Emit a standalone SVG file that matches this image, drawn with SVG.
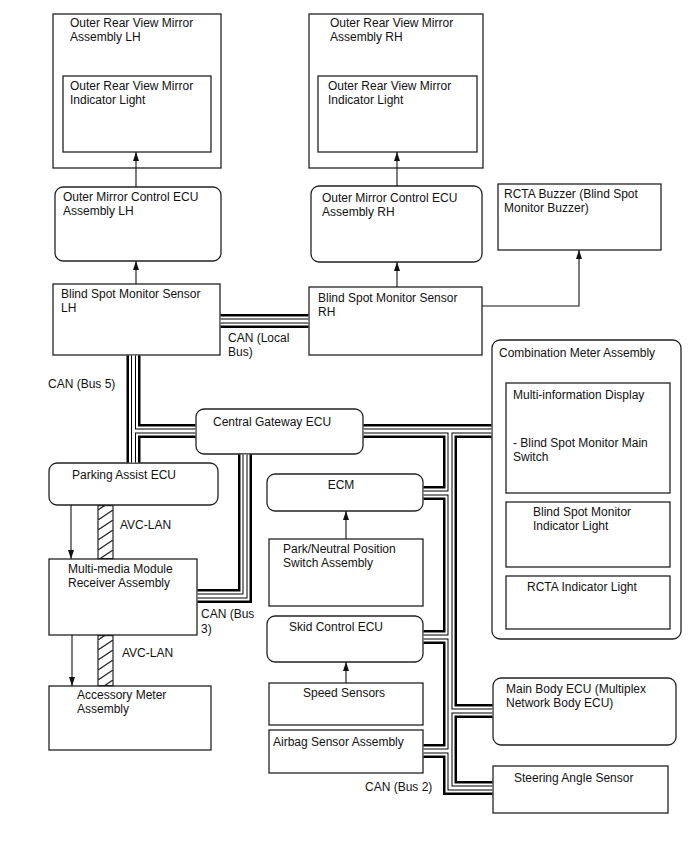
<svg xmlns="http://www.w3.org/2000/svg" xmlns:xlink="http://www.w3.org/1999/xlink" width="688" height="852" viewBox="0 0 688 852">
<style>
.bx{fill:#fff;stroke:#222;stroke-width:1.3}
.t{font-family:"Liberation Sans",Arial,sans-serif;font-size:12px;fill:#111}
.tm{text-anchor:middle}
.ar{fill:none;stroke:#111;stroke-width:1.1;marker-end:url(#ah)}
.l1{fill:none;stroke:#000;stroke-width:14}
.l2{fill:none;stroke:#fff;stroke-width:9}
.l3{fill:none;stroke:#000;stroke-width:5}
.l4{fill:none;stroke:#fff;stroke-width:3}
.hb{fill:url(#hatch);stroke:#222;stroke-width:1.2}
</style>
<defs>
<marker id="ah" viewBox="0 0 9 6" refX="9" refY="3" markerWidth="9" markerHeight="6" markerUnits="userSpaceOnUse" orient="auto">
<path d="M0,0 L9,3 L0,6 z" fill="#111"/>
</marker>
<pattern id="hatch" patternUnits="userSpaceOnUse" x="98" y="0" width="15" height="10">
<rect width="15" height="10" fill="#fff"/>
<path d="M-1,10.7 L16,-0.7" stroke="#222" stroke-width="1.2"/>
</pattern>
<path id="buses" d="M220.6,321 H308.4 M133.5,355.6 V462.4 M133.5,431 H195.4 M363.6,431 H491.4 M450,431 V788 H492.4 M245,454.6 V596 H197.6 M423.6,493 H450 M423.6,637 H450 M423.6,751 H450 M450,711 H492.4"/>
</defs>
<rect width="688" height="852" fill="#fff"/>

<g id="orvm-lh">
<rect class="bx" x="53" y="14" width="168" height="154"/>
<text class="t" x="70" y="27">Outer Rear View Mirror</text>
<text class="t" x="70" y="41">Assembly LH</text>
<g id="orvm-lh-light">
<rect class="bx" x="63" y="76" width="148" height="76"/>
<text class="t" x="70" y="90">Outer Rear View Mirror</text>
<text class="t" x="70" y="104">Indicator Light</text>
</g>
</g>

<g id="orvm-rh">
<rect class="bx" x="309" y="14" width="174" height="154"/>
<text class="t" x="330" y="27">Outer Rear View Mirror</text>
<text class="t" x="330" y="41">Assembly RH</text>
<g id="orvm-rh-light">
<rect class="bx" x="318" y="76" width="159" height="76"/>
<text class="t" x="328" y="90">Outer Rear View Mirror</text>
<text class="t" x="328" y="104">Indicator Light</text>
</g>
</g>

<g id="omc-lh">
<rect class="bx" x="55" y="187" width="166" height="74" rx="8"/>
<text class="t" x="63" y="201">Outer Mirror Control ECU</text>
<text class="t" x="63" y="215">Assembly LH</text>
</g>

<g id="omc-rh">
<rect class="bx" x="311" y="186" width="171" height="76" rx="8"/>
<text class="t" x="322" y="202">Outer Mirror Control ECU</text>
<text class="t" x="322" y="216">Assembly RH</text>
</g>

<g id="rcta-buzzer">
<rect class="bx" x="498" y="184" width="163" height="66"/>
<text class="t" x="504" y="198">RCTA Buzzer (Blind Spot</text>
<text class="t" x="504" y="212">Monitor Buzzer)</text>
</g>

<g id="bsm-lh">
<rect class="bx" x="53" y="284" width="167" height="71"/>
<text class="t" x="61" y="298">Blind Spot Monitor Sensor</text>
<text class="t" x="61" y="312">LH</text>
</g>

<g id="bsm-rh">
<rect class="bx" x="309" y="287" width="173" height="68"/>
<text class="t" x="318" y="302">Blind Spot Monitor Sensor</text>
<text class="t" x="318" y="316">RH</text>
</g>

<g id="cgw">
<rect class="bx" x="196" y="409" width="167" height="45" rx="8"/>
<text class="t" x="213" y="426">Central Gateway ECU</text>
</g>

<g id="parking-assist">
<rect class="bx" x="49" y="463" width="169" height="42" rx="8"/>
<text class="t" x="72" y="479">Parking Assist ECU</text>
</g>

<g id="mmr">
<rect class="bx" x="49" y="559" width="148" height="76"/>
<text class="t" x="68" y="573">Multi-media Module</text>
<text class="t" x="68" y="587">Receiver Assembly</text>
</g>

<g id="accessory-meter">
<rect class="bx" x="49" y="686" width="162" height="64"/>
<text class="t" x="77" y="699">Accessory Meter</text>
<text class="t" x="77" y="713">Assembly</text>
</g>

<g id="ecm">
<rect class="bx" x="267" y="474" width="156" height="37" rx="8"/>
<text class="t tm" x="341" y="489">ECM</text>
</g>

<g id="pnp">
<rect class="bx" x="269" y="539" width="154" height="67"/>
<text class="t" x="283" y="553">Park/Neutral Position</text>
<text class="t" x="283" y="567">Switch Assembly</text>
</g>

<g id="skid">
<rect class="bx" x="267" y="616" width="156" height="46" rx="8"/>
<text class="t" x="289" y="631">Skid Control ECU</text>
</g>

<g id="speed">
<rect class="bx" x="269" y="683" width="154" height="42"/>
<text class="t" x="303" y="697">Speed Sensors</text>
</g>

<g id="airbag">
<rect class="bx" x="269" y="730" width="154" height="43"/>
<text class="t" x="273" y="746">Airbag Sensor Assembly</text>
</g>

<g id="combination-meter">
<rect class="bx" x="492" y="340" width="189" height="299" rx="8"/>
<text class="t" x="499" y="357">Combination Meter Assembly</text>
<g id="mid">
<rect class="bx" x="506" y="383" width="164" height="110"/>
<text class="t" x="513" y="399">Multi-information Display</text>
<text class="t" x="513" y="447">- Blind Spot Monitor Main</text>
<text class="t" x="513" y="461">Switch</text>
</g>
<g id="bsm-indicator">
<rect class="bx" x="506" y="502" width="164" height="65"/>
<text class="t" x="533" y="516">Blind Spot Monitor</text>
<text class="t" x="533" y="530">Indicator Light</text>
</g>
<g id="rcta-indicator">
<rect class="bx" x="506" y="576" width="164" height="53"/>
<text class="t" x="527" y="591">RCTA Indicator Light</text>
</g>
</g>

<g id="main-body">
<rect class="bx" x="493" y="678" width="183" height="67" rx="8"/>
<text class="t" x="506" y="693">Main Body ECU (Multiplex</text>
<text class="t" x="506" y="707">Network Body ECU)</text>
</g>

<g id="steering">
<rect class="bx" x="493" y="766" width="175" height="47"/>
<text class="t" x="514" y="782">Steering Angle Sensor</text>
</g>

<g id="connectors">
<use xlink:href="#buses" class="l1"/>
<use xlink:href="#buses" class="l2"/>
<use xlink:href="#buses" class="l3"/>
<use xlink:href="#buses" class="l4"/>
<path class="ar" d="M136,187 V152"/>
<path class="ar" d="M136,284 V261"/>
<path class="ar" d="M397,186 V152"/>
<path class="ar" d="M397,287 V262"/>
<path class="ar" d="M482,306 H579 V250"/>
<path class="ar" d="M71,505 V559"/>
<path class="ar" d="M72,635 V686"/>
<path class="ar" d="M346,539 V511"/>
<path class="ar" d="M346,683 V662"/>
<rect class="hb" x="98" y="505.6" width="15" height="53"/>
<rect class="hb" x="98" y="635.6" width="15" height="50"/>
<text class="t" x="228" y="342">CAN (Local</text>
<text class="t" x="228" y="356">Bus)</text>
<text class="t" x="48" y="388">CAN (Bus 5)</text>
<text class="t" x="120" y="529">AVC-LAN</text>
<text class="t" x="122" y="657">AVC-LAN</text>
<text class="t" x="201" y="618">CAN (Bus</text>
<text class="t" x="201" y="633">3)</text>
<text class="t" x="365" y="791">CAN (Bus 2)</text>
</g>
</svg>
